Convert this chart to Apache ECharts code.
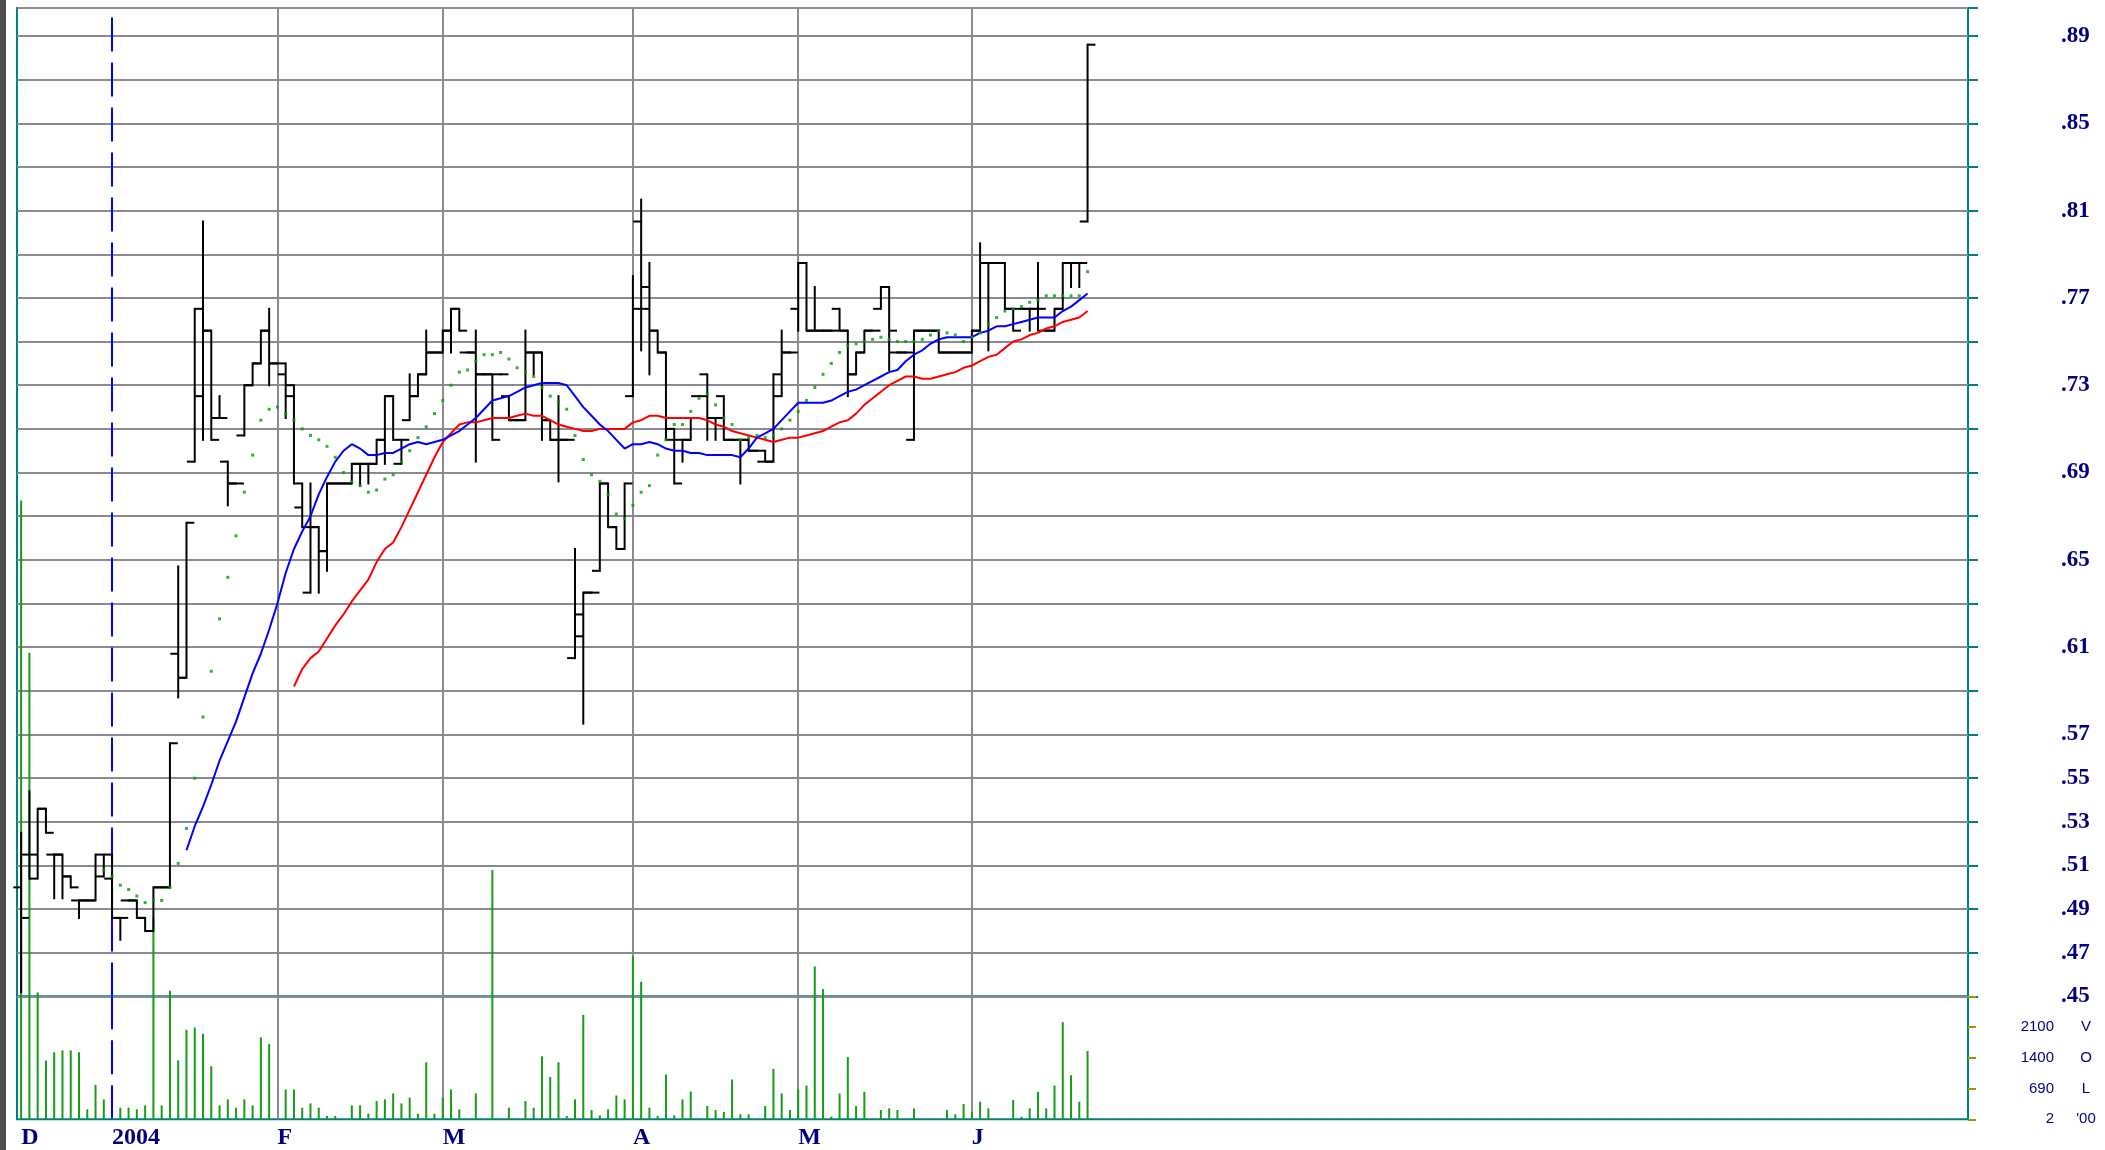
<!DOCTYPE html>
<html><head><meta charset="utf-8">
<script src="https://cdn.jsdelivr.net/npm/echarts@6/dist/echarts.min.js"></script>
<style>html,body{margin:0;padding:0;background:#fff}#c{width:2105px;height:1150px}</style>
</head><body><div id="c"></div>
<script>
// ---- axis / label data ----
const SLOT_COUNT = 236;                       // trading-day slots across the plot
const categories = Array.from({length: SLOT_COUNT}, (_, i) => String(i));
const monthLabels = ['D', '2004', 'F', 'M', 'A', 'M', 'J'];
const monthStarts = [0, 11, 31, 51, 74, 94, 115];
const monthGridIdx = [31, 51, 74, 94, 115];
const yearLineIdx = 11;
const priceLabels = ['.89','.85','.81','.77','.73','.69','.65','.61','.57','.55','.53','.51','.49','.47','.45'];
const volTickValues = [0, 700, 1400, 2100];
const volTickText = ['2', '690', '1400', '2100'];
const volTickUnit = ["'00", 'L', 'O', 'V'];

// ---- price data (day index 0 = first bar) ----
const opens = [.500,.515,.515,.536,.515,.515,.505,.494,.494,.494,
.505,.504,.486,.494,.494,.486,.480,.500,.500,.607,
.596,.695,.725,.755,.715,.695,.685,.707,.730,.740,
.755,.740,.735,.730,.674,.635,.665,.654,.685,.685,
.685,.694,.694,.694,.705,.725,.694,.714,.725,.735,
.745,.745,.755,.765,.745,.745,.735,.735,.735,.725,
.714,.714,.745,.745,.714,.705,.705,.605,.615,.635,
.645,.685,.665,.655,.725,.805,.765,.755,.745,.710,
.705,.705,.725,.735,.715,.725,.705,.705,.705,.700,
.695,.695,.725,.745,.765,.786,.755,.755,.755,.765,
.755,.735,.745,.755,.765,.775,.745,.745,.705,.755,
.755,.755,.745,.745,.745,.745,.755,.786,.786,.786,
.765,.765,.765,.765,.755,.755,.765,.786,.786,.805];
const highs = [.525,.544,.536,.536,.515,.515,.505,.494,.494,.515,
.515,.515,.486,.494,.494,.486,.500,.500,.566,.647,
.667,.765,.805,.755,.725,.695,.685,.730,.740,.755,
.765,.740,.740,.730,.685,.685,.665,.685,.685,.685,
.694,.694,.694,.705,.725,.725,.705,.735,.735,.755,
.745,.755,.765,.765,.745,.755,.735,.735,.735,.725,
.714,.755,.745,.745,.714,.725,.705,.655,.635,.635,
.685,.685,.665,.685,.780,.815,.786,.755,.745,.710,
.705,.715,.725,.735,.715,.725,.705,.705,.705,.700,
.700,.735,.755,.745,.786,.786,.775,.755,.755,.765,
.755,.745,.755,.755,.775,.775,.745,.745,.755,.755,
.755,.755,.745,.745,.745,.755,.795,.786,.786,.786,
.765,.765,.765,.786,.755,.765,.786,.786,.786,.886];
const lows = [.452,.504,.504,.525,.495,.495,.500,.486,.494,.494,
.505,.486,.476,.494,.486,.480,.480,.500,.500,.587,
.596,.695,.705,.705,.715,.675,.685,.707,.730,.740,
.730,.740,.715,.685,.665,.635,.635,.645,.685,.685,
.685,.684,.685,.694,.694,.705,.694,.714,.725,.735,
.745,.745,.745,.755,.745,.695,.735,.705,.735,.714,
.714,.714,.735,.705,.705,.686,.705,.605,.575,.635,
.645,.665,.655,.655,.725,.746,.735,.745,.705,.685,
.695,.705,.725,.705,.705,.705,.705,.685,.700,.700,
.695,.695,.725,.745,.755,.755,.755,.755,.755,.755,
.725,.735,.745,.755,.765,.737,.745,.745,.705,.755,
.755,.745,.745,.745,.745,.745,.755,.746,.786,.765,
.755,.765,.755,.755,.755,.755,.765,.775,.775,.805];
const closes = [.486,.504,.536,.525,.515,.505,.500,.494,.494,.515,
.515,.486,.486,.494,.486,.480,.500,.500,.566,.596,
.667,.765,.755,.705,.715,.685,.685,.730,.740,.755,
.740,.740,.725,.685,.665,.665,.654,.685,.685,.685,
.694,.694,.694,.705,.725,.705,.705,.725,.735,.745,
.745,.755,.765,.755,.745,.735,.735,.705,.735,.714,
.714,.745,.745,.714,.705,.705,.705,.625,.635,.635,
.685,.665,.655,.685,.765,.775,.755,.745,.705,.685,
.705,.715,.725,.715,.715,.705,.705,.705,.700,.700,
.695,.735,.745,.745,.786,.755,.755,.755,.755,.755,
.735,.745,.755,.755,.775,.755,.745,.745,.755,.755,
.755,.745,.745,.745,.745,.755,.786,.786,.786,.765,
.755,.765,.765,.765,.755,.765,.786,.786,.786,.886];

// volume (hundreds of shares)
const volumes = [14060,10600,2884,1333,1521,1566,1566,1521,226,783,
452,30,264,264,226,316,4593,316,2922,1340,
2033,2086,1943,1205,316,452,264,452,316,1860,
1709,0,678,678,264,361,264,75,75,0,
316,316,128,414,452,587,361,490,128,1295,
128,490,678,226,0,587,0,5663,0,264,
0,414,264,1431,964,1295,75,452,2372,211,
90,226,542,452,3705,3125,264,75,1017,90,
452,630,0,301,211,166,904,113,113,0,
301,1145,587,211,678,768,3471,2959,60,587,
1416,301,625,0,211,248,211,0,248,0,
0,0,211,113,346,166,399,248,0,0,
437,60,248,625,248,768,2206,1001,399,1551];

// moving averages
const GREEN_START = 10;
const greenDots = [.508,.505,.501,.499,.496,.493,.494,.494,.500,.511,
.527,.550,.578,.599,.623,.642,.661,.681,.698,.714,
.719,.720,.717,.714,.710,.707,.705,.702,.697,.690,
.686,.684,.681,.682,.687,.689,.695,.700,.706,.711,
.717,.723,.730,.736,.737,.741,.744,.744,.745,.742,
.738,.736,.734,.729,.725,.722,.719,.707,.696,.689,
.686,.680,.671,.669,.675,.681,.684,.698,.705,.712,
.712,.718,.724,.726,.721,.715,.712,.705,.706,.707,
.706,.707,.710,.714,.718,.723,.729,.735,.740,.745,
.748,.749,.750,.751,.752,.751,.750,.750,.750,.751,
.753,.755,.754,.753,.750,.752,.754,.758,.761,.764,
.765,.766,.768,.769,.771,.771,.771,.771,.771,.782];
const BLUE_START = 20;
const blueMA = [.517,.528,.537,.547,.558,.567,.576,.587,.598,.607,
.618,.630,.644,.655,.663,.670,.680,.688,.695,.700,
.703,.701,.698,.698,.699,.699,.701,.703,.704,.703,
.704,.705,.707,.709,.712,.715,.719,.723,.724,.725,
.727,.729,.730,.731,.731,.731,.730,.725,.720,.716,
.712,.709,.705,.701,.703,.703,.704,.703,.701,.700,
.700,.699,.699,.698,.698,.698,.698,.697,.701,.706,
.708,.710,.714,.718,.722,.722,.722,.722,.723,.725,
.727,.728,.730,.732,.734,.736,.737,.741,.744,.746,
.749,.751,.752,.752,.752,.752,.754,.755,.757,.757,
.758,.759,.760,.761,.761,.761,.764,.766,.769,.772];
const RED_START = 33;
const redMA = [.592,.600,.605,.608,.614,.620,.625,
.631,.636,.641,.649,.655,.658,.665,.673,.681,.689,
.697,.704,.708,.712,.713,.713,.714,.715,.715,.715,
.716,.717,.716,.716,.714,.712,.711,.710,.709,.709,
.710,.710,.710,.710,.713,.714,.716,.716,.715,.715,
.715,.715,.715,.714,.712,.711,.709,.708,.707,.706,
.705,.704,.705,.706,.706,.707,.708,.709,.711,.713,
.714,.717,.721,.724,.727,.730,.732,.734,.734,.733,
.733,.734,.735,.736,.738,.739,.741,.743,.744,.747,
.750,.751,.753,.754,.756,.757,.759,.760,.761,.764];

// ---- build chart ----
const TEAL = '#00807f';
const GRAY = '#8a8a92';
const NAVY = '#000080';

const ohlcData = opens.map((o, i) => [i, o, highs[i], lows[i], closes[i]]);
const volData = volumes.map((v, i) => [i, v]);
const greenData = greenDots.map((v, k) => [GREEN_START + k, v]);
const blueData = blueMA.map((v, k) => [BLUE_START + k, v]);
const redData = redMA.map((v, k) => [RED_START + k, v]);

function monthMarkLines() {
  const d = monthGridIdx.map(i => ({xAxis: i}));
  d.push({xAxis: yearLineIdx, lineStyle: {color: '#0000ff', width: 2, type: [34, 11]}});
  return d;
}
function volIndex(v) { return volTickValues.indexOf(Math.round(v)); }

const chart = echarts.init(document.getElementById('c'), null, {width: 2105, height: 1150});
const option = {
  animation: false,
  backgroundColor: '#ffffff',
  graphic: [{type: 'rect', left: 0, top: 0, shape: {width: 6, height: 1150}, style: {fill: '#4e4e4e'}}],
  grid: [
    {left: 17, top: 8, width: 1951, height: 988.5, show: true, borderColor: TEAL, borderWidth: 2},
    {left: 17, top: 996.5, width: 1951, height: 122.8, show: true, borderColor: TEAL, borderWidth: 2}
  ],
  xAxis: [
    {type: 'category', gridIndex: 0, data: categories, boundaryGap: true,
     axisLine: {show: false}, axisTick: {show: false}, axisLabel: {show: false}, splitLine: {show: false}},
    {type: 'category', gridIndex: 1, data: categories, boundaryGap: true,
     axisLine: {show: false}, axisTick: {show: false}, splitLine: {show: false},
     axisLabel: {
       interval: (idx) => monthStarts.includes(idx),
       formatter: (v, idx) => { const k = monthStarts.indexOf(idx); return k >= 0 ? monthLabels[k] : ''; },
       align: 'left', margin: 6, color: NAVY, fontFamily: 'Liberation Serif', fontWeight: 'bold', fontSize: 24
     }}
  ],
  yAxis: [
    {type: 'value', gridIndex: 0, position: 'right', min: 0.45, max: 0.9028, interval: 0.02,
     axisLine: {show: false},
     axisTick: {show: true, length: 10, lineStyle: {color: TEAL, width: 2}},
     splitLine: {show: true, lineStyle: {color: GRAY, width: 2}},
     axisLabel: {
       margin: 93, color: NAVY, fontFamily: 'Liberation Serif', fontWeight: 'bold', fontSize: 23,
       formatter: (v) => { const s = v.toFixed(2).replace(/^0/, ''); return priceLabels.includes(s) ? s : ''; }
     }},
    {type: 'value', gridIndex: 1, position: 'right', min: 0, max: 2790, interval: 700,
     axisLine: {show: false},
     axisTick: {show: true, length: 8, lineStyle: {color: '#9a9a00', width: 2}},
     splitLine: {show: false},
     axisLabel: {
       margin: 86, align: 'right', fontSize: 15, color: NAVY, fontFamily: 'Liberation Sans',
       formatter: (v) => { const k = volIndex(v); return k >= 0 ? volTickText[k] : ''; }
     }},
    {type: 'value', gridIndex: 1, position: 'right', min: 0, max: 2790, interval: 700,
     axisLine: {show: false}, axisTick: {show: false}, splitLine: {show: false},
     axisLabel: {
       margin: 118, align: 'center', fontSize: 15, color: NAVY, fontFamily: 'Liberation Sans',
       formatter: (v) => { const k = volIndex(v); return k >= 0 ? volTickUnit[k] : ''; }
     }}
  ],
  series: [
    {name: 'MA long', type: 'line', xAxisIndex: 0, yAxisIndex: 0, data: redData, showSymbol: false, z: 4,
     lineStyle: {color: '#ff0000', width: 2}, itemStyle: {color: '#ff0000'},
     markLine: {silent: true, z: 1, symbol: ['none', 'none'], label: {show: false},
       lineStyle: {color: GRAY, width: 2, type: 'solid'}, data: monthMarkLines()}},
    {name: 'MA short', type: 'line', xAxisIndex: 0, yAxisIndex: 0, data: blueData, showSymbol: false, z: 4,
     lineStyle: {color: '#0000ff', width: 2}, itemStyle: {color: '#0000ff'}},
    {name: 'MA dots', type: 'scatter', xAxisIndex: 0, yAxisIndex: 0, data: greenData, symbol: 'rect', symbolSize: 3, z: 4,
     itemStyle: {color: '#00a000'}},
    {name: 'OHLC', type: 'custom', xAxisIndex: 0, yAxisIndex: 0, data: ohlcData, z: 3,
     encode: {x: 0, y: [1, 2, 3, 4]},
     renderItem: function (params, api) {
       const idx = api.value(0);
       const p = api.coord([idx, api.value(1)]);
       const x = p[0];
       const oY = p[1];
       const hY = api.coord([idx, api.value(2)])[1];
       const lY = api.coord([idx, api.value(3)])[1];
       const cY = api.coord([idx, api.value(4)])[1];
       const w = api.size([1, 0])[0] * 0.95;
       const st = {stroke: '#000000', lineWidth: 2};
       return {type: 'group', children: [
         {type: 'line', shape: {x1: x, y1: hY - 1, x2: x, y2: lY + 1}, style: st},
         {type: 'line', shape: {x1: x - w, y1: oY, x2: x, y2: oY}, style: st},
         {type: 'line', shape: {x1: x, y1: cY, x2: x + w, y2: cY}, style: st}
       ]};
     }},
    {name: 'Volume', type: 'bar', xAxisIndex: 1, yAxisIndex: 1, data: volData, barWidth: 2, clip: false, z: 2,
     itemStyle: {color: '#169c16'},
     markLine: {silent: true, z: 1, symbol: ['none', 'none'], label: {show: false},
       lineStyle: {color: GRAY, width: 2, type: 'solid'}, data: monthMarkLines()}}
  ]
};
chart.setOption(option);
</script></body></html>
